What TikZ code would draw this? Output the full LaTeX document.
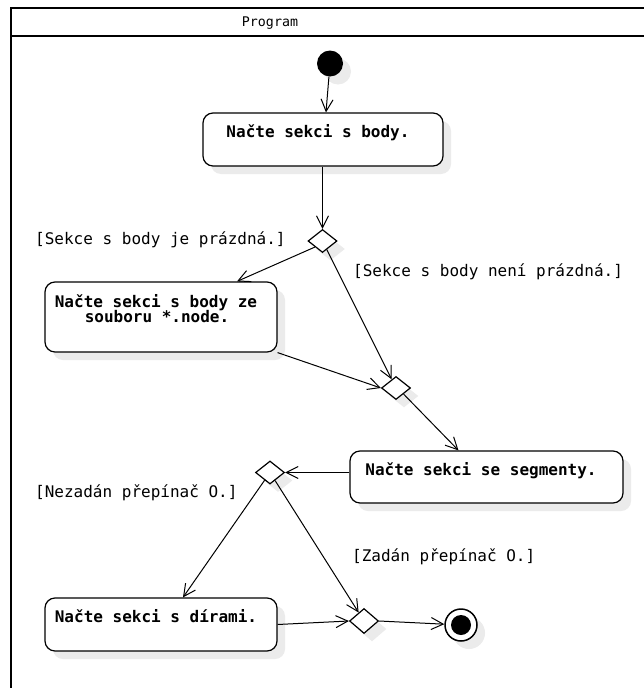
\documentclass[tikz,border=0pt]{standalone}
\usepackage{fontspec}
\setmonofont{DejaVu Sans Mono}
\usetikzlibrary{arrows.meta,shapes.geometric,shadows}
\begin{document}
\begin{tikzpicture}[x=1pt,y=-1pt,
  shade box/.style={general shadow={fill=black!8,shadow xshift=8pt,shadow yshift=-8pt}},
  activity/.style={draw,line width=1.2pt,rounded corners=10pt,fill=white,shade box,inner sep=0pt},
  acttext/.style={font=\ttfamily\bfseries\fontsize{16}{16}\selectfont,anchor=base,inner sep=0pt},
  guard/.style={font=\ttfamily\fontsize{16}{16}\selectfont,anchor=base west,inner sep=0pt},
  decision/.style={diamond,draw,line width=1.2pt,fill=white,shade box,inner sep=0pt,minimum width=29pt,minimum height=23pt},
  flow/.style={line width=1pt,-{Straight Barb[length=12pt,width=12pt,line width=1pt]}}]
\useasboundingbox (0,0) rectangle (644,688);
\fill[white] (0,0) rectangle (644,688);

% frame with header
\draw[line width=2pt] (11,688) -- (11,8) -- (644,8);
\draw[line width=2pt] (11,36) -- (644,36);
\node[font=\ttfamily\fontsize{13.3}{13.3}\selectfont,anchor=base,inner sep=0pt] (title) at (270,27) {Program};

% start and end
\node[circle,fill=black,minimum size=26pt,inner sep=0pt,shade box] (init) at (330,63.5) {};
\node[circle,draw,line width=1.5pt,fill=white,minimum size=32pt,inner sep=0pt,shade box,
  path picture={\fill[black] (path picture bounding box.center) circle (10pt);}] (fin) at (461,625) {};

% activities
\node[activity,minimum width=240pt,minimum height=53pt] (a1) at (323,139.5) {};
\node[acttext] (t1) at (318,137) {Načte sekci s body.};
\node[activity,minimum width=232pt,minimum height=70pt] (a2) at (161,317) {};
\node[acttext] (t2a) at (156,307) {Načte sekci s body ze};
\node[acttext] (t2b) at (157,322) {souboru *.node.};
\node[activity,minimum width=273pt,minimum height=52pt] (a3) at (486.5,477) {};
\node[acttext] (t3) at (481,475) {Načte sekci se segmenty.};
\node[activity,minimum width=232pt,minimum height=53pt] (a4) at (161,624.5) {};
\node[acttext] (t4) at (156,622) {Načte sekci s dírami.};

% decisions and merges
\node[decision] (d1) at (322.5,241) {};
\node[decision] (d2) at (396,388) {};
\node[decision] (d3) at (270,472.5) {};
\node[decision,minimum height=25pt] (d4) at (364,621) {};

% guards
\node[guard] (g1) at (35,244) {[Sekce s body je prázdná.]};
\node[guard] (g2) at (353,276) {[Sekce s body není prázdná.]};
\node[guard] (g3) at (35,497) {[Nezadán přepínač O.]};
\node[guard] (g4) at (352,561) {[Zadán přepínač O.]};

% control flow
\draw[flow] (init) -- ([xshift=3pt]a1.north);
\draw[flow] (a1.south -| d1.north) -- (d1.north);
\draw[flow] (d1.south west) -- ([xshift=76pt]a2.north);
\draw[flow] (d1) -- (d2);
\draw[flow] (a2.south east) -- (d2.west);
\draw[flow] (d2.south east) -- ([xshift=-28pt]a3.north);
\draw[flow] (d3.east -| a3.west) -- (d3.east);
\draw[flow] (d3) -- ([xshift=22pt]a4.north);
\draw[flow] (d3) -- (d4);
\draw[flow] (a4.east) -- (d4.west);
\draw[flow] (d4.east) -- (fin);
\end{tikzpicture}
\end{document}
